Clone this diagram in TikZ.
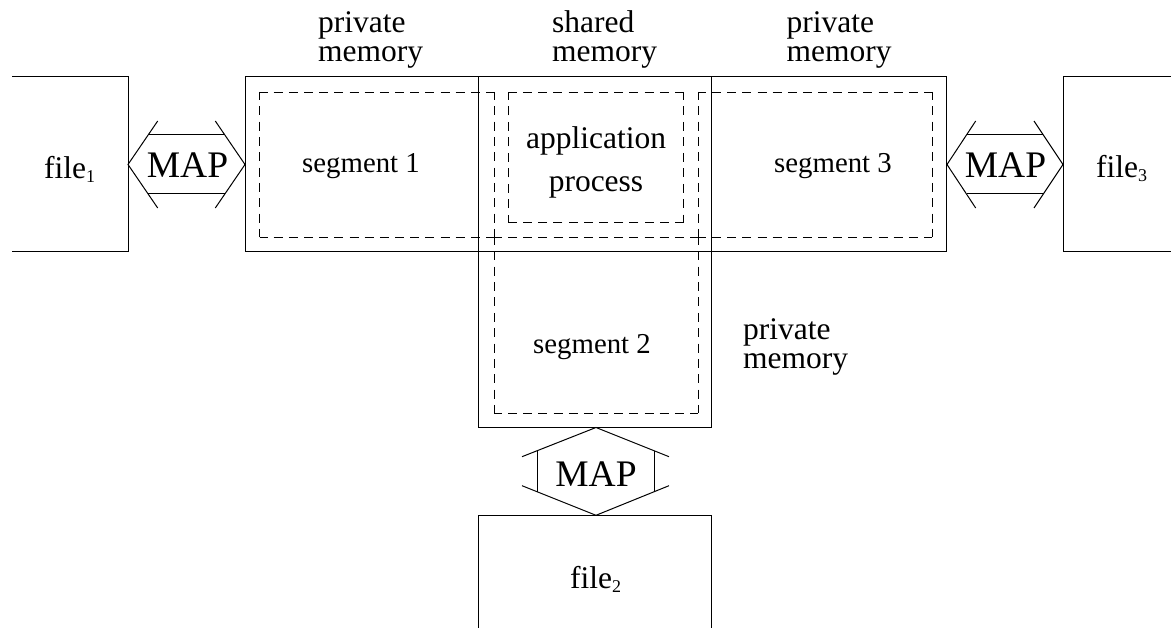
\documentclass[tikz,border=0pt]{standalone}
\usepackage{fontspec}
\usetikzlibrary{calc}
\setmainfont{Liberation Serif}
\newcommand{\subidx}[1]{\raisebox{-4pt}{\fontsize{18}{18}\selectfont #1}}
% one dashed edge, with a dash reaching each of its two ends
\newcommand{\dashedge}[2]{%
  \path let \p1=(#1), \p2=(#2), \n1={veclen(\x2-\x1,\y2-\y1)},
    \n2={round((\n1-7pt)/15pt)}, \n3={(\n1-16pt-(\n2-1)*9pt)/\n2} in
    \pgfextra{\pgfmathsetlengthmacro\dgaplen{\n3}\global\let\dgaplen\dgaplen};
  \draw[draw=black,line width=0.9pt,dash pattern=on 9pt off \dgaplen, dash phase=1pt] (#1) -- (#2);}
\tikzset{
  solidln/.style={draw=black,line width=1pt},
  seglabel/.style={anchor=base,inner sep=0pt,font=\fontsize{28.8}{28.8}\selectfont},
  maplabel/.style={anchor=base,inner sep=0pt,font=\fontsize{37.5}{37.5}\selectfont},
  biglabel/.style={anchor=base,inner sep=0pt,font=\fontsize{31.5}{31.5}\selectfont},
}
\begin{document}
\begin{tikzpicture}[x=1pt,y=-1pt]
\useasboundingbox (0,0) rectangle (1171,628);
% memory
\draw[solidln] (245,76.8) rectangle (946.8,252);
\draw[solidln] (478.4,76.8) -- (478.4,427.5) -- (711.8,427.5) -- (711.8,76.8);
% dashed region corners
\coordinate (a) at (259.5,92);
\coordinate (b) at (494,92);
\coordinate (c) at (698,92);
\coordinate (d) at (932,92);
\coordinate (e) at (259.5,237);
\coordinate (f) at (494,237);
\coordinate (g) at (698,237);
\coordinate (h) at (932,237);
\coordinate (i) at (494,413);
\coordinate (j) at (698,413);
\coordinate (k) at (508.7,92);
\coordinate (l) at (683,92);
\coordinate (m) at (683,222.7);
\coordinate (n) at (508.7,222.7);
\dashedge{a}{b}\dashedge{b}{f}\dashedge{a}{e}\dashedge{e}{f}
\dashedge{f}{g}
\dashedge{c}{d}\dashedge{d}{h}\dashedge{c}{g}\dashedge{g}{h}
\dashedge{f}{i}\dashedge{i}{j}\dashedge{g}{j}
\dashedge{k}{l}\dashedge{l}{m}\dashedge{m}{n}\dashedge{n}{k}
% files
\draw[solidln] (12,76.8) -- (128,76.8) -- (128,252) -- (12,252);
\draw[solidln] (1171,76.8) -- (1063,76.8) -- (1063,252) -- (1171,252);
\draw[solidln] (478.4,628) -- (478.4,515.3) -- (711.8,515.3) -- (711.8,628);
% left MAP
\draw[solidln] (157.7,121) -- (128,164.5) -- (157.7,208);
\draw[solidln] (215.3,121) -- (245,164.5) -- (215.3,208);
\draw[solidln] (148,135) -- (225,135);
\draw[solidln] (148,194) -- (225,194);
% right MAP
\draw[solidln] (975.7,121) -- (947,164.5) -- (975.7,208);
\draw[solidln] (1034,121) -- (1063,164.5) -- (1034,208);
\draw[solidln] (967,135) -- (1043,135);
\draw[solidln] (967,194) -- (1043,194);
% lower MAP
\draw[solidln] (522,456.7) -- (596,427.5) -- (669,456.7);
\draw[solidln] (522,485.7) -- (596,515.3) -- (669,485.7);
\draw[solidln] (537.7,450.7) -- (537.7,491.7);
\draw[solidln] (654,450.7) -- (654,491.7);
% labels
\node[biglabel,anchor=base west] (f1) at (44,179) {file\subidx{1}};
\node[biglabel,anchor=base west] (f3) at (1096,178) {file\subidx{3}};
\node[biglabel,anchor=base west] (f2) at (570,588) {file\subidx{2}};
\node[maplabel] (m1) at (187.5,178) {MAP};
\node[maplabel] (m3) at (1005.5,178) {MAP};
\node[maplabel] (m2) at (596,486) {MAP};
\node[seglabel] (s1) at (361,173) {segment 1};
\node[seglabel] (s3) at (833,173) {segment 3};
\node[seglabel] (s2) at (592,353.5) {segment 2};
\node[biglabel] (a1) at (596,149) {application};
\node[biglabel] (a2) at (596,192) {process};
\node[biglabel,anchor=base west] (p1a) at (318,33) {private};
\node[biglabel,anchor=base west] (p1b) at (318,62) {memory};
\node[biglabel,anchor=base west] (sha) at (552,33) {shared};
\node[biglabel,anchor=base west] (shb) at (552,62) {memory};
\node[biglabel,anchor=base west] (p3a) at (786.5,33) {private};
\node[biglabel,anchor=base west] (p3b) at (786.5,62) {memory};
\node[biglabel,anchor=base west] (p2a) at (743,340) {private};
\node[biglabel,anchor=base west] (p2b) at (743,369) {memory};
\end{tikzpicture}
\end{document}
